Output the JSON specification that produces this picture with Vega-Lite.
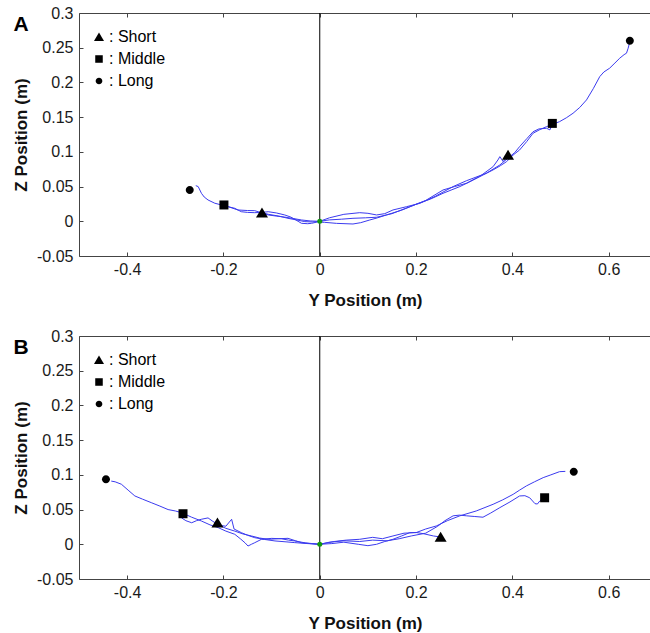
{
  "$schema": "https://vega.github.io/schema/vega-lite/v6.json",
  "padding": {"left": 12, "top": 5, "right": 0, "bottom": 5},
  "background": "white",
  "datasets": {
    "linesA": [
      {"t":"Short","y":-0.120,"z":0.0124},{"t":"Short","y":-0.107,"z":0.0101},{"t":"Short","y":-0.085,"z":0.0075},{"t":"Short","y":-0.066,"z":0.0043},{"t":"Short","y":-0.045,"z":0.0015},{"t":"Short","y":-0.031,"z":-0.0005},{"t":"Short","y":-0.015,"z":-0.001},{"t":"Short","y":0,"z":0},{"t":"Short","y":0.02,"z":0.002},{"t":"Short","y":0.045,"z":0.003},{"t":"Short","y":0.069,"z":0.0043},{"t":"Short","y":0.095,"z":0.005},{"t":"Short","y":0.118,"z":0.0058},{"t":"Short","y":0.15,"z":0.011},{"t":"Short","y":0.187,"z":0.021},{"t":"Short","y":0.22,"z":0.030},{"t":"Short","y":0.256,"z":0.0451},{"t":"Short","y":0.28,"z":0.050},{"t":"Short","y":0.305,"z":0.0548},{"t":"Short","y":0.335,"z":0.066},{"t":"Short","y":0.36,"z":0.0787},{"t":"Short","y":0.37,"z":0.0883},{"t":"Short","y":0.374,"z":0.0931},{"t":"Short","y":0.381,"z":0.0859},{"t":"Short","y":0.391,"z":0.0955},
      {"t":"Middle","y":-0.199,"z":0.0235},{"t":"Middle","y":-0.19,"z":0.021},{"t":"Middle","y":-0.17,"z":0.0163},{"t":"Middle","y":-0.15,"z":0.0155},{"t":"Middle","y":-0.135,"z":0.0153},{"t":"Middle","y":-0.12,"z":0.012},{"t":"Middle","y":-0.107,"z":0.0091},{"t":"Middle","y":-0.09,"z":0.0075},{"t":"Middle","y":-0.0727,"z":0.006},{"t":"Middle","y":-0.055,"z":0.004},{"t":"Middle","y":-0.038,"z":0.0019},{"t":"Middle","y":-0.02,"z":0.0005},{"t":"Middle","y":0,"z":0},{"t":"Middle","y":0.02,"z":0.005},{"t":"Middle","y":0.05,"z":0.010},{"t":"Middle","y":0.083,"z":0.0124},{"t":"Middle","y":0.1,"z":0.0115},{"t":"Middle","y":0.118,"z":0.0091},{"t":"Middle","y":0.135,"z":0.011},{"t":"Middle","y":0.152,"z":0.0163},{"t":"Middle","y":0.18,"z":0.021},{"t":"Middle","y":0.208,"z":0.0259},{"t":"Middle","y":0.24,"z":0.036},{"t":"Middle","y":0.277,"z":0.050},{"t":"Middle","y":0.305,"z":0.0585},{"t":"Middle","y":0.346,"z":0.0692},{"t":"Middle","y":0.374,"z":0.0811},{"t":"Middle","y":0.391,"z":0.091},{"t":"Middle","y":0.405,"z":0.099},{"t":"Middle","y":0.415,"z":0.1075},{"t":"Middle","y":0.43,"z":0.119},{"t":"Middle","y":0.443,"z":0.129},{"t":"Middle","y":0.455,"z":0.133},{"t":"Middle","y":0.471,"z":0.134},{"t":"Middle","y":0.478,"z":0.1316},{"t":"Middle","y":0.483,"z":0.141},
      {"t":"Long","y":-0.2575,"z":0.0513},{"t":"Long","y":-0.2525,"z":0.05},{"t":"Long","y":-0.2457,"z":0.0403},{"t":"Long","y":-0.24,"z":0.035},{"t":"Long","y":-0.232,"z":0.0307},{"t":"Long","y":-0.218,"z":0.026},{"t":"Long","y":-0.204,"z":0.0235},{"t":"Long","y":-0.19,"z":0.021},{"t":"Long","y":-0.1765,"z":0.0187},{"t":"Long","y":-0.163,"z":0.0138},{"t":"Long","y":-0.15,"z":0.0128},{"t":"Long","y":-0.135,"z":0.0124},{"t":"Long","y":-0.12,"z":0.0128},{"t":"Long","y":-0.107,"z":0.0138},{"t":"Long","y":-0.09,"z":0.012},{"t":"Long","y":-0.0727,"z":0.0091},{"t":"Long","y":-0.06,"z":0.006},{"t":"Long","y":-0.052,"z":0.0029},{"t":"Long","y":-0.045,"z":0.0},{"t":"Long","y":-0.038,"z":-0.0029},{"t":"Long","y":-0.025,"z":-0.0035},{"t":"Long","y":-0.017,"z":-0.0029},{"t":"Long","y":-0.005,"z":-0.001},{"t":"Long","y":0.01,"z":-0.0015},{"t":"Long","y":0.035,"z":-0.003},{"t":"Long","y":0.069,"z":-0.0039},{"t":"Long","y":0.085,"z":-0.002},{"t":"Long","y":0.104,"z":0.0019},{"t":"Long","y":0.12,"z":0.005},{"t":"Long","y":0.1385,"z":0.0091},{"t":"Long","y":0.17,"z":0.016},{"t":"Long","y":0.202,"z":0.025},{"t":"Long","y":0.23,"z":0.032},{"t":"Long","y":0.256,"z":0.0403},{"t":"Long","y":0.291,"z":0.050},{"t":"Long","y":0.319,"z":0.0595},{"t":"Long","y":0.34,"z":0.067},{"t":"Long","y":0.36,"z":0.074},{"t":"Long","y":0.375,"z":0.080},{"t":"Long","y":0.388,"z":0.0859},{"t":"Long","y":0.4017,"z":0.0955},{"t":"Long","y":0.415,"z":0.1027},{"t":"Long","y":0.43,"z":0.115},{"t":"Long","y":0.443,"z":0.1268},{"t":"Long","y":0.457,"z":0.132},{"t":"Long","y":0.471,"z":0.1363},{"t":"Long","y":0.485,"z":0.140},{"t":"Long","y":0.498,"z":0.1435},{"t":"Long","y":0.512,"z":0.149},{"t":"Long","y":0.526,"z":0.1556},{"t":"Long","y":0.54,"z":0.164},{"t":"Long","y":0.554,"z":0.1748},{"t":"Long","y":0.568,"z":0.191},{"t":"Long","y":0.5815,"z":0.2084},{"t":"Long","y":0.59,"z":0.215},{"t":"Long","y":0.602,"z":0.2205},{"t":"Long","y":0.613,"z":0.228},{"t":"Long","y":0.623,"z":0.2349},{"t":"Long","y":0.632,"z":0.240},{"t":"Long","y":0.637,"z":0.2421},{"t":"Long","y":0.6405,"z":0.2493},{"t":"Long","y":0.643,"z":0.256}
    ],
    "linesB": [
      {"t":"Short","y":-0.2125,"z":0.031},{"t":"Short","y":-0.205,"z":0.027},{"t":"Short","y":-0.195,"z":0.026},{"t":"Short","y":-0.183,"z":0.036},{"t":"Short","y":-0.178,"z":0.022},{"t":"Short","y":-0.163,"z":0.0168},{"t":"Short","y":-0.15,"z":0.013},{"t":"Short","y":-0.135,"z":0.0095},{"t":"Short","y":-0.115,"z":0.007},{"t":"Short","y":-0.093,"z":0.0048},{"t":"Short","y":-0.07,"z":0.0035},{"t":"Short","y":-0.052,"z":0.0024},{"t":"Short","y":-0.025,"z":0.001},{"t":"Short","y":0,"z":0},{"t":"Short","y":0.025,"z":0.001},{"t":"Short","y":0.05,"z":0.003},{"t":"Short","y":0.08,"z":0.0},{"t":"Short","y":0.1,"z":-0.002},{"t":"Short","y":0.118,"z":0.0},{"t":"Short","y":0.135,"z":0.004},{"t":"Short","y":0.152,"z":0.0072},{"t":"Short","y":0.17,"z":0.012},{"t":"Short","y":0.187,"z":0.0168},{"t":"Short","y":0.2,"z":0.017},{"t":"Short","y":0.215,"z":0.0153},{"t":"Short","y":0.236,"z":0.012},{"t":"Short","y":0.251,"z":0.0105},
      {"t":"Middle","y":-0.284,"z":0.044},{"t":"Middle","y":-0.287,"z":0.038},{"t":"Middle","y":-0.278,"z":0.034},{"t":"Middle","y":-0.266,"z":0.031},{"t":"Middle","y":-0.256,"z":0.034},{"t":"Middle","y":-0.246,"z":0.036},{"t":"Middle","y":-0.232,"z":0.038},{"t":"Middle","y":-0.222,"z":0.033},{"t":"Middle","y":-0.21,"z":0.028},{"t":"Middle","y":-0.195,"z":0.023},{"t":"Middle","y":-0.1765,"z":0.019},{"t":"Middle","y":-0.16,"z":0.015},{"t":"Middle","y":-0.142,"z":0.012},{"t":"Middle","y":-0.125,"z":0.009},{"t":"Middle","y":-0.107,"z":0.0072},{"t":"Middle","y":-0.085,"z":0.008},{"t":"Middle","y":-0.066,"z":0.0086},{"t":"Middle","y":-0.05,"z":0.005},{"t":"Middle","y":-0.038,"z":0.0023},{"t":"Middle","y":-0.02,"z":0.001},{"t":"Middle","y":0,"z":0},{"t":"Middle","y":0.02,"z":0.003},{"t":"Middle","y":0.05,"z":0.005},{"t":"Middle","y":0.083,"z":0.004},{"t":"Middle","y":0.11,"z":0.006},{"t":"Middle","y":0.14,"z":0.005},{"t":"Middle","y":0.165,"z":0.008},{"t":"Middle","y":0.19,"z":0.012},{"t":"Middle","y":0.22,"z":0.016},{"t":"Middle","y":0.245,"z":0.026},{"t":"Middle","y":0.26,"z":0.034},{"t":"Middle","y":0.277,"z":0.041},{"t":"Middle","y":0.29,"z":0.042},{"t":"Middle","y":0.305,"z":0.041},{"t":"Middle","y":0.322,"z":0.040},{"t":"Middle","y":0.339,"z":0.039},{"t":"Middle","y":0.355,"z":0.045},{"t":"Middle","y":0.374,"z":0.0528},{"t":"Middle","y":0.395,"z":0.061},{"t":"Middle","y":0.415,"z":0.0696},{"t":"Middle","y":0.426,"z":0.070},{"t":"Middle","y":0.436,"z":0.067},{"t":"Middle","y":0.447,"z":0.0585},{"t":"Middle","y":0.452,"z":0.058},{"t":"Middle","y":0.457,"z":0.0624},{"t":"Middle","y":0.467,"z":0.067},
      {"t":"Long","y":-0.433,"z":0.091},{"t":"Long","y":-0.425,"z":0.090},{"t":"Long","y":-0.412,"z":0.0865},{"t":"Long","y":-0.398,"z":0.078},{"t":"Long","y":-0.384,"z":0.0696},{"t":"Long","y":-0.368,"z":0.065},{"t":"Long","y":-0.35,"z":0.060},{"t":"Long","y":-0.332,"z":0.055},{"t":"Long","y":-0.315,"z":0.050},{"t":"Long","y":-0.3,"z":0.048},{"t":"Long","y":-0.287,"z":0.0455},{"t":"Long","y":-0.266,"z":0.039},{"t":"Long","y":-0.246,"z":0.0336},{"t":"Long","y":-0.228,"z":0.028},{"t":"Long","y":-0.211,"z":0.024},{"t":"Long","y":-0.195,"z":0.019},{"t":"Long","y":-0.1765,"z":0.0144},{"t":"Long","y":-0.165,"z":0.008},{"t":"Long","y":-0.155,"z":0.002},{"t":"Long","y":-0.149,"z":-0.0025},{"t":"Long","y":-0.142,"z":0.0},{"t":"Long","y":-0.135,"z":0.0023},{"t":"Long","y":-0.121,"z":0.0072},{"t":"Long","y":-0.1,"z":0.0085},{"t":"Long","y":-0.08,"z":0.008},{"t":"Long","y":-0.065,"z":0.006},{"t":"Long","y":-0.052,"z":0.0048},{"t":"Long","y":-0.03,"z":0.002},{"t":"Long","y":0,"z":0},{"t":"Long","y":0.03,"z":0.004},{"t":"Long","y":0.055,"z":0.006},{"t":"Long","y":0.083,"z":0.0072},{"t":"Long","y":0.11,"z":0.010},{"t":"Long","y":0.13,"z":0.008},{"t":"Long","y":0.152,"z":0.012},{"t":"Long","y":0.175,"z":0.016},{"t":"Long","y":0.2,"z":0.0168},{"t":"Long","y":0.22,"z":0.022},{"t":"Long","y":0.242,"z":0.0264},{"t":"Long","y":0.265,"z":0.034},{"t":"Long","y":0.291,"z":0.041},{"t":"Long","y":0.325,"z":0.048},{"t":"Long","y":0.36,"z":0.0576},{"t":"Long","y":0.38,"z":0.064},{"t":"Long","y":0.4017,"z":0.072},{"t":"Long","y":0.415,"z":0.078},{"t":"Long","y":0.429,"z":0.084},{"t":"Long","y":0.446,"z":0.090},{"t":"Long","y":0.464,"z":0.096},{"t":"Long","y":0.48,"z":0.100},{"t":"Long","y":0.498,"z":0.1046},{"t":"Long","y":0.51,"z":0.105}
    ],
    "marksA": [
      {"dist":"Short","y":-0.120,"z":0.0124},{"dist":"Short","y":0.391,"z":0.0955},
      {"dist":"Middle","y":-0.199,"z":0.0235},{"dist":"Middle","y":0.483,"z":0.141},
      {"dist":"Long","y":-0.270,"z":0.045},{"dist":"Long","y":0.644,"z":0.260}
    ],
    "marksB": [
      {"dist":"Short","y":-0.2125,"z":0.031},{"dist":"Short","y":0.251,"z":0.0105},
      {"dist":"Middle","y":-0.284,"z":0.044},{"dist":"Middle","y":0.467,"z":0.067},
      {"dist":"Long","y":-0.444,"z":0.0937},{"dist":"Long","y":0.5275,"z":0.1046}
    ]
  },
  "vconcat": [
    {
      "title": {"text": "A", "anchor": "start", "frame": "bounds", "fontSize": 21, "fontWeight": "bold", "color": "black", "baseline": "top", "offset": -10, "dy": 20, "dx": 1},
      "width": 573, "height": 243,
      "layer": [
        {"data": {"values": [{}]}, "mark": {"type": "rule", "color": "black", "strokeWidth": 1},
         "encoding": {"x": {"datum": 0, "type": "quantitative", "axis": null}}},
        {"data": {"name": "linesA"}, "mark": {"type": "line", "color": "#3b3bef", "strokeWidth": 1},
         "encoding": {
           "x": {"field": "y", "type": "quantitative", "scale": {"domain": [-0.5, 0.69], "nice": false, "zero": false},
             "axis": {"orient": "bottom", "title": "Y Position (m)", "values": [-0.4,-0.2,0,0.2,0.4,0.6], "labelExpr": "'' + datum.value", "tickSize": -4, "labelPadding": 9, "titlePadding": 15, "titleX": 286}},
           "y": {"field": "z", "type": "quantitative", "scale": {"domain": [-0.05, 0.3], "nice": false, "zero": false},
             "axis": {"title": "Z Position (m)", "values": [-0.05,0,0.05,0.1,0.15,0.2,0.25,0.3], "labelExpr": "'' + datum.value", "labelOverlap": false, "tickSize": -4, "labelPadding": 10, "titlePadding": 6}},
           "detail": {"field": "t"},
           "order": {"value": null}
         }},
        {"data": {"values": [{}]}, "mark": {"type": "point", "filled": true, "color": "#119911", "size": 25, "opacity": 1},
         "encoding": {"x": {"datum": 0, "type": "quantitative", "axis": null},
           "y": {"datum": 0, "type": "quantitative", "axis": {"title": "Z Position (m)", "values": [-0.05,0,0.05,0.1,0.15,0.2,0.25,0.3], "labelExpr": "'' + datum.value", "labelOverlap": false, "tickSize": -4, "labelPadding": 10, "titlePadding": 6}}}},
        {"data": {"name": "marksA"}, "mark": {"type": "point", "filled": true, "color": "black", "opacity": 1, "size": 100},
         "encoding": {
           "x": {"field": "y", "type": "quantitative", "axis": {"orient": "top", "values": [-0.4,-0.2,0,0.2,0.4,0.6], "labels": false, "title": null, "tickSize": -4}},
           "y": {"field": "z", "type": "quantitative", "axis": {"title": "Z Position (m)", "values": [-0.05,0,0.05,0.1,0.15,0.2,0.25,0.3], "labelExpr": "'' + datum.value", "labelOverlap": false, "tickSize": -4, "labelPadding": 10, "titlePadding": 6}},
           "shape": {"field": "dist", "type": "nominal", "scale": {"domain": ["Short","Middle","Long"], "range": ["M0,-1.05L1.2,0.95L-1.2,0.95Z", "M-0.9,-0.9H0.9V0.9H-0.9Z", "M-0.8,0A0.8,0.8 0 1,0 0.8,0A0.8,0.8 0 1,0 -0.8,0Z"]},
             "legend": {"orient": "top-left", "title": null, "offset": 16, "labelExpr": "': ' + datum.label", "labelFontSize": 16, "labelColor": "black", "symbolFillColor": "black", "symbolStrokeColor": "black", "symbolStrokeWidth": 0, "symbolSize": 70, "symbolOpacity": 1, "rowPadding": 6, "labelOffset": 2, "padding": 0, "symbolOffset": -4}}
         }}
      ],
      "resolve": {"axis": {"x": "independent"}}
    },
    {
      "title": {"text": "B", "anchor": "start", "frame": "bounds", "fontSize": 21, "fontWeight": "bold", "color": "black", "baseline": "top", "offset": -10, "dy": 20, "dx": 1},
      "width": 573, "height": 243,
      "layer": [
        {"data": {"values": [{}]}, "mark": {"type": "rule", "color": "black", "strokeWidth": 1},
         "encoding": {"x": {"datum": 0, "type": "quantitative", "axis": null}}},
        {"data": {"name": "linesB"}, "mark": {"type": "line", "color": "#3b3bef", "strokeWidth": 1},
         "encoding": {
           "x": {"field": "y", "type": "quantitative", "scale": {"domain": [-0.5, 0.69], "nice": false, "zero": false},
             "axis": {"orient": "bottom", "title": "Y Position (m)", "values": [-0.4,-0.2,0,0.2,0.4,0.6], "labelExpr": "'' + datum.value", "tickSize": -4, "labelPadding": 9, "titlePadding": 15, "titleX": 286}},
           "y": {"field": "z", "type": "quantitative", "scale": {"domain": [-0.05, 0.3], "nice": false, "zero": false},
             "axis": {"title": "Z Position (m)", "values": [-0.05,0,0.05,0.1,0.15,0.2,0.25,0.3], "labelExpr": "'' + datum.value", "labelOverlap": false, "tickSize": -4, "labelPadding": 10, "titlePadding": 6}},
           "detail": {"field": "t"},
           "order": {"value": null}
         }},
        {"data": {"values": [{}]}, "mark": {"type": "point", "filled": true, "color": "#119911", "size": 25, "opacity": 1},
         "encoding": {"x": {"datum": 0, "type": "quantitative", "axis": null},
           "y": {"datum": 0, "type": "quantitative", "axis": {"title": "Z Position (m)", "values": [-0.05,0,0.05,0.1,0.15,0.2,0.25,0.3], "labelExpr": "'' + datum.value", "labelOverlap": false, "tickSize": -4, "labelPadding": 10, "titlePadding": 6}}}},
        {"data": {"name": "marksB"}, "mark": {"type": "point", "filled": true, "color": "black", "opacity": 1, "size": 100},
         "encoding": {
           "x": {"field": "y", "type": "quantitative", "axis": {"orient": "top", "values": [-0.4,-0.2,0,0.2,0.4,0.6], "labels": false, "title": null, "tickSize": -4}},
           "y": {"field": "z", "type": "quantitative", "axis": {"title": "Z Position (m)", "values": [-0.05,0,0.05,0.1,0.15,0.2,0.25,0.3], "labelExpr": "'' + datum.value", "labelOverlap": false, "tickSize": -4, "labelPadding": 10, "titlePadding": 6}},
           "shape": {"field": "dist", "type": "nominal", "scale": {"domain": ["Short","Middle","Long"], "range": ["M0,-1.05L1.2,0.95L-1.2,0.95Z", "M-0.9,-0.9H0.9V0.9H-0.9Z", "M-0.8,0A0.8,0.8 0 1,0 0.8,0A0.8,0.8 0 1,0 -0.8,0Z"]},
             "legend": {"orient": "top-left", "title": null, "offset": 16, "labelExpr": "': ' + datum.label", "labelFontSize": 16, "labelColor": "black", "symbolFillColor": "black", "symbolStrokeColor": "black", "symbolStrokeWidth": 0, "symbolSize": 70, "symbolOpacity": 1, "rowPadding": 6, "labelOffset": 2, "padding": 0, "symbolOffset": -4}}
         }}
      ],
      "resolve": {"axis": {"x": "independent"}}
    }
  ],
  "spacing": 20,
  "resolve": {"scale": {"shape": "independent"}, "legend": {"shape": "independent"}},
  "config": {
    "font": "Liberation Sans",
    "view": {"stroke": null},
    "axis": {"grid": false, "labelFontSize": 16, "labelColor": "#1a1a1a", "titleFontSize": 17, "titleFontWeight": "bold", "titleColor": "#111", "domainColor": "#444", "tickColor": "#444", "labelFont": "Liberation Sans", "titleFont": "Liberation Sans"},
    "legend": {"labelFont": "Liberation Sans"}
  }
}
